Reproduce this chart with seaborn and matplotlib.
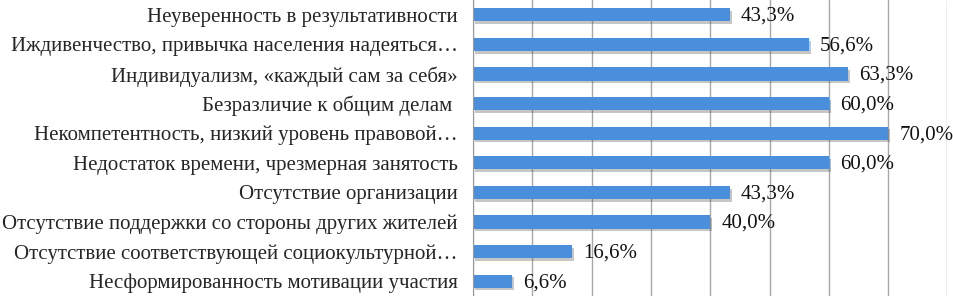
import numpy as np
import pandas as pd
import matplotlib
matplotlib.use("Agg")
import matplotlib.pyplot as plt
import matplotlib.patheffects as pe
from matplotlib.ticker import MultipleLocator, FixedLocator
import seaborn as sns

categories = [
    "Неуверенность в результативности",
    "Иждивенчество, привычка населения надеяться…",
    "Индивидуализм, «каждый сам за себя»",
    "Безразличие к общим делам ",
    "Некомпетентность, низкий уровень правовой…",
    "Недостаток времени, чрезмерная занятость",
    "Отсутствие организации",
    "Отсутствие поддержки со стороны других жителей",
    "Отсутствие соответствующей социокультурной…",
    "Несформированность мотивации участия",
]
values = [43.3, 56.6, 63.3, 60.0, 70.0, 60.0, 43.3, 40.0, 16.6, 6.6]

df = pd.DataFrame({"reason": categories, "share": values})

sns.set_style("white")
plt.rcParams["font.family"] = ["Liberation Serif", "DejaVu Serif"]

fig, ax = plt.subplots(figsize=(9.54, 2.96), dpi=100)
fig.subplots_adjust(left=0.496, right=0.993, top=1.0, bottom=0.0)

sns.barplot(data=df, y="reason", x="share", color="#4A8FDC", width=0.44,
            saturation=1, ax=ax)

for bar, v in zip(ax.patches, values):
    bar.set_linewidth(0)
    bar.set_path_effects([pe.withSimplePatchShadow(offset=(1.5, -2), alpha=0.3,
                                                   shadow_rgbFace="#444444"),
                          pe.Normal()])
    ax.text(bar.get_width() + 1.9, bar.get_y() + bar.get_height() / 2 + 0.05,
            f"{v:.1f}%".replace(".", ","), va="center", ha="left",
            fontsize=15, color="#111111")

ax.set_xlim(0, 80)
ax.set_ylim(len(categories) - 0.5, -0.5)
ax.xaxis.set_major_locator(MultipleLocator(10))
ax.grid(axis="x", color="#A8A8A8", linewidth=1.0)
ax.set_axisbelow(True)
ax.set_xticklabels([])
ax.tick_params(axis="x", length=0)
ax.set_xlabel("")
ax.set_ylabel("")

ax.tick_params(axis="y", which="major", length=0, labelsize=15, pad=11)
ax.yaxis.set_minor_locator(FixedLocator(np.arange(-0.5, len(categories), 1)))
ax.tick_params(axis="y", which="minor", length=4, color="#999999", width=0.8)

for s in ["top", "right", "bottom"]:
    ax.spines[s].set_visible(False)
ax.spines["left"].set_color("#999999")

plt.savefig("out.png", dpi=100)
